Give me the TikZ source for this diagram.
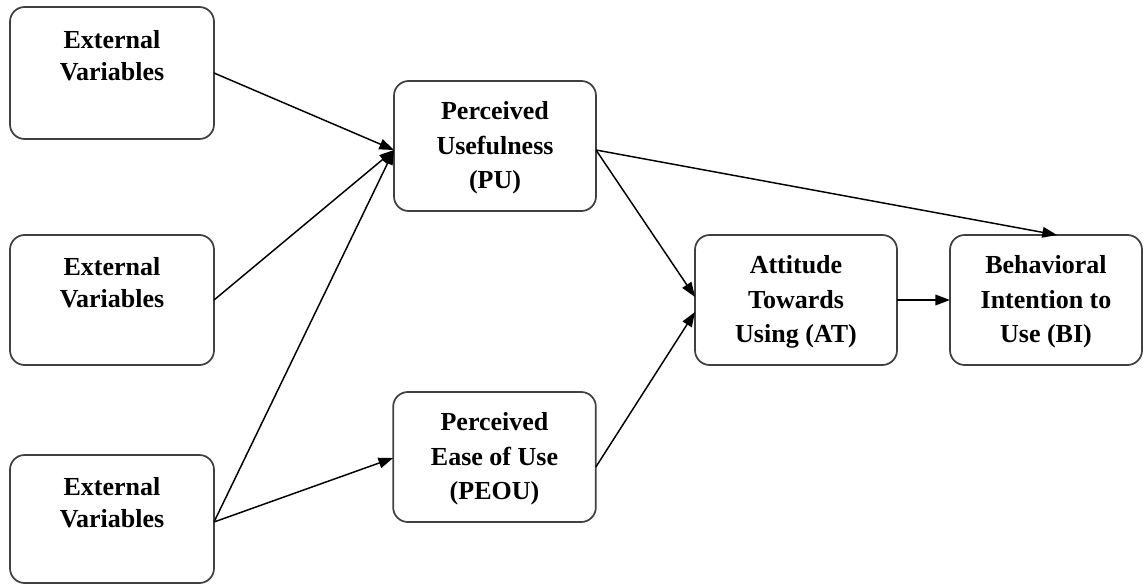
\documentclass[tikz,border=0pt]{standalone}
\usepackage{fontspec}
\setmainfont{Liberation Serif}
\usetikzlibrary{arrows.meta,calc}
\begin{document}
\begin{tikzpicture}[x=0.75pt,y=-0.75pt,
  box/.style={draw=black!75,line width=1.3pt,rounded corners=11pt,inner sep=0pt,outer sep=0pt},
  lbl/.style={align=center,font=\fontsize{19.5pt}{24pt}\selectfont\bfseries,inner sep=0pt},
  lbl3/.style={align=center,font=\fontsize{19.5pt}{25.8pt}\selectfont\bfseries,inner sep=0pt},
  link/.style={line width=1.1pt,-{Triangle[length=11pt,width=8pt]}}]
\useasboundingbox (0,0) rectangle (1144,585);

% external variable boxes (text sits in the upper part)
\node[box,minimum width=153pt,minimum height=99pt] (e1) at (112,73) {};
\node[box,minimum width=153pt,minimum height=97.5pt] (e2) at (112,300) {};
\node[box,minimum width=153pt,minimum height=96pt] (e3) at (112,519) {};
\node[lbl] (e1t) at (112,56) {External\\Variables};
\node[lbl] (e2t) at (112,283) {External\\Variables};
\node[lbl] (e3t) at (112,503) {External\\Variables};

% TAM constructs
\node[box,minimum width=151.5pt,minimum height=97.5pt] (pu) at (495,146) {};
\node[box,minimum width=152pt,minimum height=97.5pt] (peou) at (494.5,457) {};
\node[box,minimum width=151.5pt,minimum height=97.5pt] (at) at (796,300) {};
\node[box,minimum width=144pt,minimum height=97.5pt] (bi) at (1046,300) {};
\node[lbl3] (put) at (495,148) {Perceived\\Usefulness\\(PU)};
\node[lbl3] (peout) at (494.5,459) {Perceived\\Ease of Use\\(PEOU)};
\node[lbl3] (att) at (796,302) {Attitude\\Towards\\Using (AT)};
\node[lbl3] (bit) at (1046,302) {Behavioral\\Intention to\\Use (BI)};

% connectors
\coordinate (puin) at ($(pu.west)+(0,4)$);
\coordinate (puout) at ($(pu.east)+(0,4)$);
\coordinate (peouin) at ($(peou.west)+(0,1)$);
\coordinate (peouout) at ($(peou.east)+(0,10)$);
\coordinate (atin1) at ($(at.west)+(0,-3)$);
\coordinate (atin2) at ($(at.west)+(0,12)$);
\coordinate (bitop) at ($(bi.north)+(11,0)$);
\coordinate (e3out) at ($(e3.east)+(0,3)$);

\draw[link] (e1.east) -- (puin);
\draw[link] (e2.east) -- (puin);
\draw[link] (e3out) -- (puin);
\draw[link] (e3out) -- (peouin);
\draw[link] (puout) -- (atin1);
\draw[link] (puout) -- (bitop);
\draw[link] (peouout) -- (atin2);
\draw[link] (at.east) -- (bi.west);
\end{tikzpicture}
\end{document}
